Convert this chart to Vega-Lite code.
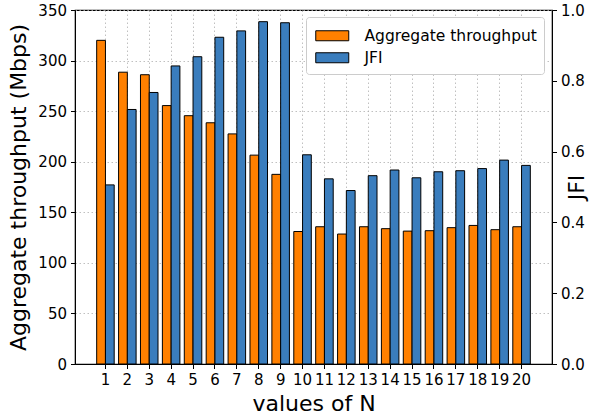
{
  "$schema": "https://vega.github.io/schema/vega-lite/v6.json",
  "width": 477,
  "height": 354,
  "autosize": {"type": "none"},
  "padding": {"left": 75, "top": 10, "right": 61, "bottom": 54},
  "background": "white",
  "config": {
    "font": "DejaVu Sans",
    "view": {"stroke": "black", "strokeWidth": 1.2},
    "axis": {
      "labelFont": "DejaVu Sans",
      "titleFont": "DejaVu Sans",
      "labelFontSize": 15,
      "titleFontSize": 22,
      "titleFontWeight": "normal",
      "labelColor": "black",
      "titleColor": "black",
      "domainColor": "black",
      "tickColor": "black",
      "tickSize": 4.5,
      "tickWidth": 1,
      "labelPadding": 4,
      "gridColor": "#b0b0b0",
      "gridDash": [1.5, 2.5],
      "gridWidth": 0.8
    }
  },
  "data": {
    "values": [
      {"N": 1, "series": "Aggregate throughput", "value": 320},
      {"N": 2, "series": "Aggregate throughput", "value": 288.5},
      {"N": 3, "series": "Aggregate throughput", "value": 286},
      {"N": 4, "series": "Aggregate throughput", "value": 255.5},
      {"N": 5, "series": "Aggregate throughput", "value": 245.5},
      {"N": 6, "series": "Aggregate throughput", "value": 238.5},
      {"N": 7, "series": "Aggregate throughput", "value": 227.5},
      {"N": 8, "series": "Aggregate throughput", "value": 206.5},
      {"N": 9, "series": "Aggregate throughput", "value": 187.5},
      {"N": 10, "series": "Aggregate throughput", "value": 131},
      {"N": 11, "series": "Aggregate throughput", "value": 135.7},
      {"N": 12, "series": "Aggregate throughput", "value": 128.5},
      {"N": 13, "series": "Aggregate throughput", "value": 135.7},
      {"N": 14, "series": "Aggregate throughput", "value": 133.8},
      {"N": 15, "series": "Aggregate throughput", "value": 131.4},
      {"N": 16, "series": "Aggregate throughput", "value": 131.8},
      {"N": 17, "series": "Aggregate throughput", "value": 134.8},
      {"N": 18, "series": "Aggregate throughput", "value": 137},
      {"N": 19, "series": "Aggregate throughput", "value": 132.8},
      {"N": 20, "series": "Aggregate throughput", "value": 135.7},
      {"N": 1, "series": "JFI", "value": 0.506},
      {"N": 2, "series": "JFI", "value": 0.719},
      {"N": 3, "series": "JFI", "value": 0.767},
      {"N": 4, "series": "JFI", "value": 0.842},
      {"N": 5, "series": "JFI", "value": 0.868},
      {"N": 6, "series": "JFI", "value": 0.923},
      {"N": 7, "series": "JFI", "value": 0.941},
      {"N": 8, "series": "JFI", "value": 0.967},
      {"N": 9, "series": "JFI", "value": 0.964},
      {"N": 10, "series": "JFI", "value": 0.591},
      {"N": 11, "series": "JFI", "value": 0.523},
      {"N": 12, "series": "JFI", "value": 0.49},
      {"N": 13, "series": "JFI", "value": 0.532},
      {"N": 14, "series": "JFI", "value": 0.548},
      {"N": 15, "series": "JFI", "value": 0.526},
      {"N": 16, "series": "JFI", "value": 0.543},
      {"N": 17, "series": "JFI", "value": 0.546},
      {"N": 18, "series": "JFI", "value": 0.552},
      {"N": 19, "series": "JFI", "value": 0.576},
      {"N": 20, "series": "JFI", "value": 0.561}
    ]
  },
  "encoding": {
    "x": {
      "field": "N",
      "type": "ordinal",
      "scale": {"paddingInner": 0.2, "paddingOuter": 0.99},
      "axis": {
        "title": "values of N",
        "labelAngle": 0,
        "labelOverlap": false,
        "grid": true,
        "bandPosition": 0.5,
        "titlePadding": 6
      }
    },
    "xOffset": {
      "field": "series",
      "type": "nominal",
      "scale": {"domain": ["Aggregate throughput", "JFI"], "paddingInner": 0, "paddingOuter": 0}
    },
    "color": {
      "field": "series",
      "type": "nominal",
      "scale": {"domain": ["Aggregate throughput", "JFI"], "range": ["#ff8000", "#3a7dbd"]},
      "legend": {
        "title": " ",
        "titleFontSize": 4,
        "titlePadding": 0,
        "orient": "none",
        "legendX": 231,
        "legendY": 7,
        "fillColor": "white",
        "strokeColor": "#cccccc",
        "cornerRadius": 3,
        "padding": 7,
        "symbolType": "M-1,-1H5.6V1H-1Z",
        "symbolSize": 100,
        "symbolStrokeColor": "black",
        "symbolStrokeWidth": 1,
        "symbolOpacity": 1,
        "labelFontSize": 15.5,
        "labelFont": "DejaVu Sans",
        "labelColor": "black",
        "labelOffset": 36,
        "labelLimit": 400,
        "rowPadding": 5
      }
    }
  },
  "layer": [
    {
      "transform": [{"filter": "datum.series === 'Aggregate throughput'"}],
      "mark": {"type": "bar", "stroke": "black", "strokeWidth": 1, "opacity": 1},
      "encoding": {
        "y": {
          "field": "value",
          "type": "quantitative",
          "scale": {"domain": [0, 350], "nice": false},
          "axis": {
            "title": "Aggregate throughput (Mbps)",
            "values": [0, 50, 100, 150, 200, 250, 300, 350],
            "grid": true,
            "titlePadding": 7
          }
        }
      }
    },
    {
      "transform": [{"filter": "datum.series === 'JFI'"}],
      "mark": {"type": "bar", "stroke": "black", "strokeWidth": 1, "opacity": 1},
      "encoding": {
        "y": {
          "field": "value",
          "type": "quantitative",
          "scale": {"domain": [0, 1], "nice": false},
          "axis": {
            "title": "JFI",
            "orient": "right",
            "values": [0, 0.2, 0.4, 0.6, 0.8, 1.0],
            "format": ".1f",
            "grid": false,
            "titleAngle": 270,
            "titlePadding": 4
          }
        }
      }
    }
  ],
  "resolve": {"scale": {"y": "independent"}}
}
